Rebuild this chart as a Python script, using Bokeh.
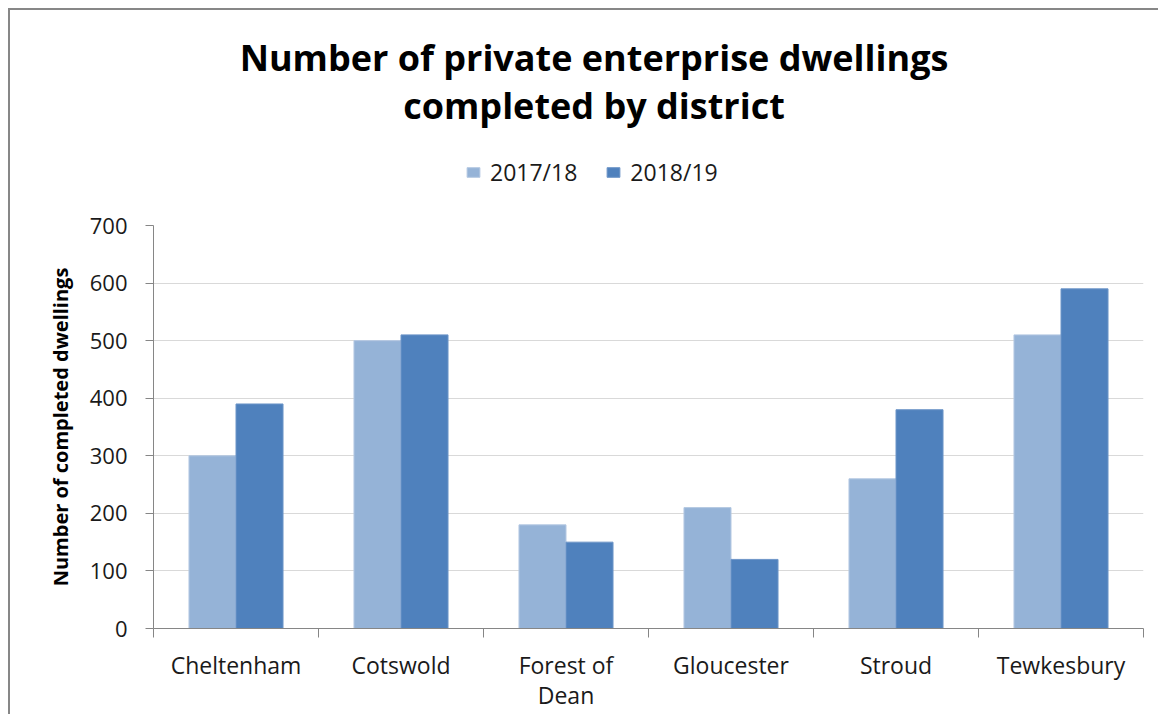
from bokeh.plotting import figure
from bokeh.layouts import column
from bokeh.models import Range1d, FixedTicker, Legend, LegendItem, Label, ColumnDataSource
from bokeh.transform import dodge
from bokeh.embed import file_html
from bokeh.resources import INLINE

districts = ["Cheltenham", "Cotswold", "Forest of\nDean", "Gloucester", "Stroud", "Tewkesbury"]
series_names = ["2017/18", "2018/19"]
values_2017_18 = [300, 500, 180, 210, 260, 510]
values_2018_19 = [390, 510, 150, 120, 380, 590]
y_ticks = [0, 100, 200, 300, 400, 500, 600, 700]

title_line1 = "Number of private enterprise dwellings"
title_line2 = "completed by district"
y_label = "Number of completed dwellings"

FONT = "Open Sans"
LIGHT = "#95B3D7"
DARK = "#4F81BD"
LIGHT_EDGE = "#B4C8E2"
DARK_EDGE = "#6D95C8"
AXIS = "#868686"
TEXT = "#1a1a1a"

W = 1148
HEAD_H = 195
MAIN_H = 509
BL, BR = 143, 15

# ---------------- main chart ----------------
xpos = list(range(len(districts)))
source = ColumnDataSource(dict(x=xpos, a=values_2017_18, b=values_2018_19))

p = figure(width=W, height=MAIN_H,
           x_range=Range1d(-0.5, len(districts) - 0.5),
           y_range=Range1d(y_ticks[0], y_ticks[-1]),
           toolbar_location=None, output_backend="svg",
           min_border_left=BL, min_border_right=BR,
           min_border_top=20, min_border_bottom=83)
p.outline_line_color = None
p.background_fill_color = "white"
p.border_fill_color = "white"

bw = 0.285
bar1 = dict(fill_color=LIGHT, line_color=LIGHT_EDGE, line_width=1)
bar2 = dict(fill_color=DARK, line_color=DARK_EDGE, line_width=1)
r1 = p.vbar(x=dodge("x", -bw / 2, range=p.x_range), top="a", width=bw, bottom=0,
            source=source, **bar1)
r2 = p.vbar(x=dodge("x", bw / 2, range=p.x_range), top="b", width=bw, bottom=0,
            source=source, **bar2)

p.xgrid.visible = False
p.ygrid.grid_line_color = "#D9D9D9"
p.ygrid.grid_line_width = 1

p.yaxis.ticker = FixedTicker(ticks=y_ticks)
p.yaxis.axis_line_color = AXIS
p.yaxis.major_tick_line_color = AXIS
p.yaxis.major_tick_out = 8
p.yaxis.major_tick_in = 0
p.yaxis.minor_tick_line_color = None
p.yaxis.major_label_text_font = FONT
p.yaxis.major_label_text_font_size = "22px"
p.yaxis.major_label_text_color = TEXT
p.yaxis.major_label_standoff = 18
p.yaxis.axis_label = y_label
p.yaxis.axis_label_text_font = FONT
p.yaxis.axis_label_text_font_size = "20px"
p.yaxis.axis_label_text_font_style = "bold"
p.yaxis.axis_label_text_color = "black"
p.yaxis.axis_label_standoff = 13

boundaries = [i - 0.5 for i in range(len(districts) + 1)]
p.xaxis.ticker = FixedTicker(ticks=xpos, minor_ticks=boundaries)
p.xaxis.major_label_overrides = {i: d for i, d in zip(xpos, districts)}
p.xaxis.axis_line_color = AXIS
p.xaxis.major_tick_line_color = None
p.xaxis.major_tick_out = 9
p.xaxis.major_tick_in = 0
p.xaxis.minor_tick_line_color = AXIS
p.xaxis.minor_tick_out = 9
p.xaxis.minor_tick_in = 0
p.xaxis.major_label_text_font = FONT
p.xaxis.major_label_text_font_size = "23px"
p.xaxis.major_label_text_color = TEXT
p.xaxis.major_label_text_line_height = 0.96
p.xaxis.major_label_standoff = 11

# ---------------- header: title + legend ----------------
# header frame is aligned with the main frame, so its x range spans canvas px BL..W-BR
h = figure(width=W, height=HEAD_H, x_range=Range1d(BL, W - BR), y_range=Range1d(HEAD_H, 0),
           x_axis_type=None, y_axis_type=None,
           toolbar_location=None, output_backend="svg",
           min_border_left=BL, min_border_right=BR, min_border_top=0, min_border_bottom=0)
h.outline_line_color = None
h.background_fill_color = "white"
h.border_fill_color = "white"

for txt, yb in [(title_line1, 47), (title_line2, 95)]:
    h.add_layout(Label(x=583.5, y=yb, text=txt, text_align="center",
                       text_baseline="alphabetic", text_font=FONT,
                       text_font_size="36px", text_font_style="bold",
                       text_color="black"))

# legend swatches: hidden copies of the bar renderers (same data, same styles)
h1 = h.vbar(x="x", top="a", width=bw, source=source, visible=False, **bar1)
h2 = h.vbar(x="x", top="b", width=bw, source=source, visible=False, **bar2)
legend = Legend(items=[LegendItem(label=series_names[0], renderers=[h1]),
                       LegendItem(label=series_names[1], renderers=[h2])],
                location=(312, 17), orientation="horizontal",
                glyph_width=16, glyph_height=12, label_standoff=9, spacing=28,
                padding=0, margin=0, border_line_color=None,
                background_fill_alpha=0, inactive_fill_alpha=0,
                label_text_font=FONT, label_text_font_size="23px",
                label_text_color=TEXT)
h.add_layout(legend)

layout = column(h, p, spacing=0,
                styles={"margin-left": "8px", "margin-top": "8px",
                        "border-left": "2px solid #878787",
                        "border-top": "2px solid #878787"})

open("out.html", "w").write(file_html(layout, INLINE))
